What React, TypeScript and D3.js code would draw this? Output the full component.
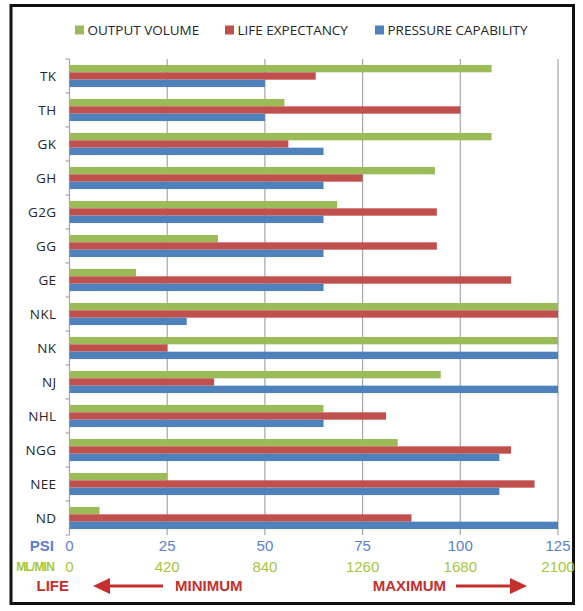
import React from 'react';
import * as d3 from 'd3';

const categories = ['TK', 'TH', 'GK', 'GH', 'G2G', 'GG', 'GE', 'NKL', 'NK', 'NJ', 'NHL', 'NGG', 'NEE', 'ND'];
const outputVolume = [108, 55, 108, 93.5, 68.5, 38, 17, 125, 125, 95, 65, 84, 25, 7.7];
const lifeExpectancy = [63, 100, 56, 75, 94, 94, 113, 125, 25, 37, 81, 113, 119, 87.5];
const pressureCapability = [50, 50, 65, 65, 65, 65, 65, 30, 125, 125, 65, 110, 110, 125];

const seriesNames = ['OUTPUT VOLUME', 'LIFE EXPECTANCY', 'PRESSURE CAPABILITY'];
const seriesColors = ['#9BBB59', '#C0504D', '#4F81BD'];

const psiTicks = [0, 25, 50, 75, 100, 125];
const mlTicks = [0, 420, 840, 1260, 1680, 2100];

const W = 583;
const H = 611;
const left = 69.5;
const right = 558;
const top = 59;
const bottom = 535;

const labelFont = '"Open Sans", sans-serif';
const arialFont = '"Liberation Sans", Arial, sans-serif';

const App: React.FC = () => {
  const x = d3.scaleLinear().domain([0, 125]).range([left, right]);
  const xMl = d3.scaleLinear().domain([0, 2100]).range([left, right]);
  const y = d3
    .scaleBand<string>()
    .domain(categories)
    .range([top, bottom])
    .paddingInner(0.35)
    .paddingOuter(0.175);
  const step = y.step();
  const sub = d3.scaleBand<number>().domain([0, 1, 2]).range([0, y.bandwidth()]);
  const series = [outputVolume, lifeExpectancy, pressureCapability];

  const legendX = [75, 225, 375];

  return (
    <svg
      width={W}
      height={H}
      style={{ position: 'absolute', left: 0, top: 0, background: '#fff' }}
    >
      <rect x={0} y={0} width={W} height={H} fill="#fff" />
      <rect x={11} y={5.5} width={562.5} height={598} fill="#fff" stroke="#111" strokeWidth={3} />

      {/* legend */}
      {seriesNames.map((name, i) => (
        <g key={name}>
          <rect x={legendX[i]} y={25.5} width={9} height={9} fill={seriesColors[i]} />
          <text
            x={legendX[i] + 12.5}
            y={30}
            dy="0.35em"
            fontFamily={labelFont}
            fontSize={13.5}
            fill="#262626"
          >
            {name}
          </text>
        </g>
      ))}

      {/* gridlines */}
      {psiTicks.slice(1).map((t) => (
        <line key={t} x1={x(t)} x2={x(t)} y1={top} y2={bottom} stroke="#A6A6A6" strokeWidth={1.2} />
      ))}
      <line x1={left} x2={left} y1={top} y2={bottom} stroke="#A6A6A6" strokeWidth={1.2} />
      {d3.range(categories.length + 1).map((i) => (
        <line
          key={i}
          x1={left - 4}
          x2={left}
          y1={top + i * step}
          y2={top + i * step}
          stroke="#A6A6A6"
          strokeWidth={1.2}
        />
      ))}

      {/* bars */}
      {categories.map((c, ci) =>
        series.map((vals, si) => (
          <rect
            key={c + si}
            x={x(0)}
            y={(y(c) as number) + (sub(si) as number)}
            width={x(vals[ci]) - x(0)}
            height={sub.bandwidth()}
            fill={seriesColors[si]}
          />
        ))
      )}

      {/* category labels */}
      {categories.map((c) => (
        <text
          key={c}
          x={56.5}
          y={(y(c) as number) + y.bandwidth() / 2}
          dy="0.35em"
          textAnchor="end"
          fontFamily={labelFont}
          fontSize={13.5}
          letterSpacing={0.4}
          fill="#262626"
        >
          {c}
        </text>
      ))}

      {/* PSI axis */}
      <text x={54} y={546} dy="0.35em" textAnchor="end" fontFamily={arialFont} fontWeight="bold" fontSize={15} fill="#5B80CA">
        PSI
      </text>
      {psiTicks.map((t) => (
        <text key={t} x={x(t)} y={546} dy="0.35em" textAnchor="middle" fontFamily={arialFont} fontSize={15} fill="#5B80CA">
          {t}
        </text>
      ))}

      {/* ML/MIN axis */}
      <text x={54} y={567} dy="0.35em" textAnchor="end" fontFamily={arialFont} fontWeight="bold" fontSize={12} letterSpacing={-0.8} fill="#A6C63C">
        ML/MIN
      </text>
      {mlTicks.map((t) => (
        <text key={t} x={xMl(t)} y={567} dy="0.35em" textAnchor="middle" fontFamily={arialFont} fontSize={15} fill="#A6C63C">
          {t}
        </text>
      ))}

      {/* LIFE row */}
      <g fill="#C4302B" fontFamily={arialFont} fontWeight="bold" fontSize={15}>
        <text x={69} y={586} dy="0.35em" textAnchor="end">LIFE</text>
        <text x={175} y={586} dy="0.35em">MINIMUM</text>
        <text x={446} y={586} dy="0.35em" textAnchor="end">MAXIMUM</text>
      </g>
      <line x1={109} x2={163} y1={586} y2={586} stroke="#C4302B" strokeWidth={3} />
      <path d="M93,586 L110,578 L110,594 Z" fill="#C4302B" />
      <line x1={456} x2={511} y1={586} y2={586} stroke="#C4302B" strokeWidth={3} />
      <path d="M527,586 L510,578 L510,594 Z" fill="#C4302B" />
    </svg>
  );
};

export default App;
